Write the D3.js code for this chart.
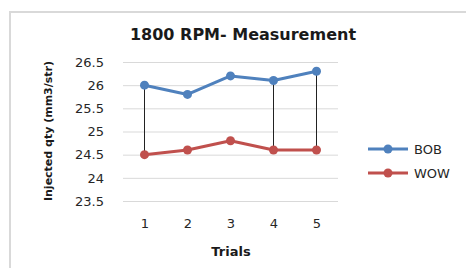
<!DOCTYPE html>
<html>
<head>
<meta charset="utf-8">
<script src="https://cdn.jsdelivr.net/npm/d3@7"></script>
<style>
  body { margin: 0; background: #fff; }
  svg { display: block; }
</style>
</head>
<body>
<div id="chart"></div>
<script>
// data
const trials = ['1', '2', '3', '4', '5'];
const bob = [26.0, 25.8, 26.2, 26.1, 26.3];
const wow = [24.5, 24.6, 24.8, 24.6, 24.6];
const yTicks = [23.5, 24, 24.5, 25, 25.5, 26, 26.5];
const dropTrials = ['1', '4', '5']; // vertical connectors between the series
const seriesNames = ['BOB', 'WOW'];
const seriesColors = ['#4f81bd', '#c0504d'];

const width = 466, height = 268;
const plot = { left: 123, right: 338, top: 62, bottom: 201 };
const font = 'DejaVu Sans, Verdana, sans-serif';

const svg = d3.select('#chart').append('svg')
  .attr('width', width)
  .attr('height', height);

// outer frame of the chart area
svg.append('rect')
  .attr('x', 10).attr('y', 12)
  .attr('width', 470).attr('height', 270)
  .attr('fill', '#fff')
  .attr('stroke', '#d9d9d9')
  .attr('stroke-width', 2);

const x = d3.scalePoint().domain(trials).range([plot.left, plot.right]).padding(0.5);
const y = d3.scaleLinear().domain([23.5, 26.5]).range([plot.bottom, plot.top]);

// gridlines + y labels
const yAxis = svg.append('g')
  .attr('transform', 'translate(' + plot.left + ',0)')
  .call(d3.axisLeft(y).tickValues(yTicks).tickSize(-(plot.right - plot.left)).tickPadding(19)
    .tickFormat(d3.format('')));
yAxis.select('.domain').remove();
yAxis.selectAll('.tick line').attr('stroke', '#d9d9d9');
yAxis.selectAll('.tick text')
  .attr('fill', '#262626')
  .style('font-family', font)
  .style('font-size', '13px');

// x labels
const xAxis = svg.append('g')
  .attr('transform', 'translate(0,' + plot.bottom + ')')
  .call(d3.axisBottom(x).tickSize(0).tickPadding(18));
xAxis.select('.domain').remove();
xAxis.selectAll('.tick text')
  .attr('fill', '#262626')
  .style('font-family', font)
  .style('font-size', '13px');

// high-low connectors
svg.append('g').selectAll('line')
  .data(dropTrials)
  .join('line')
  .attr('x1', d => x(d)).attr('x2', d => x(d))
  .attr('y1', d => y(bob[trials.indexOf(d)]))
  .attr('y2', d => y(wow[trials.indexOf(d)]))
  .attr('stroke', '#222')
  .attr('stroke-width', 1);

const line = d3.line().x((d, i) => x(trials[i])).y(d => y(d));
[bob, wow].forEach((vals, k) => {
  svg.append('path')
    .datum(vals)
    .attr('d', line)
    .attr('fill', 'none')
    .attr('stroke', seriesColors[k])
    .attr('stroke-width', 3)
    .attr('stroke-linejoin', 'round');
  svg.append('g').selectAll('circle')
    .data(vals)
    .join('circle')
    .attr('cx', (d, i) => x(trials[i]))
    .attr('cy', d => y(d))
    .attr('r', 4.5)
    .attr('fill', seriesColors[k]);
});

// title
svg.append('text')
  .attr('x', 243).attr('y', 40)
  .attr('text-anchor', 'middle')
  .style('font-family', font)
  .style('font-size', '16px')
  .style('font-weight', 'bold')
  .attr('fill', '#1a1a1a')
  .text('1800 RPM- Measurement');

// axis titles
svg.append('text')
  .attr('transform', 'translate(52,131) rotate(-90)')
  .attr('text-anchor', 'middle')
  .style('font-family', font)
  .style('font-size', '11px')
  .style('font-weight', 'bold')
  .attr('fill', '#1a1a1a')
  .text('Injected qty (mm3/str)');

svg.append('text')
  .attr('x', 231).attr('y', 256)
  .attr('text-anchor', 'middle')
  .style('font-family', font)
  .style('font-size', '13px')
  .style('font-weight', 'bold')
  .attr('fill', '#1a1a1a')
  .text('Trials');

// legend
const legend = svg.append('g').selectAll('g')
  .data(seriesNames)
  .join('g')
  .attr('transform', (d, i) => 'translate(368,' + (149 + i * 24) + ')');
legend.append('line')
  .attr('x1', 0).attr('x2', 40)
  .attr('stroke', (d, i) => seriesColors[i])
  .attr('stroke-width', 3);
legend.append('circle')
  .attr('cx', 20).attr('r', 4.5)
  .attr('fill', (d, i) => seriesColors[i]);
legend.append('text')
  .attr('x', 46).attr('dy', '0.35em')
  .style('font-family', font)
  .style('font-size', '13px')
  .attr('fill', '#262626')
  .text(d => d);
</script>
</body>
</html>
